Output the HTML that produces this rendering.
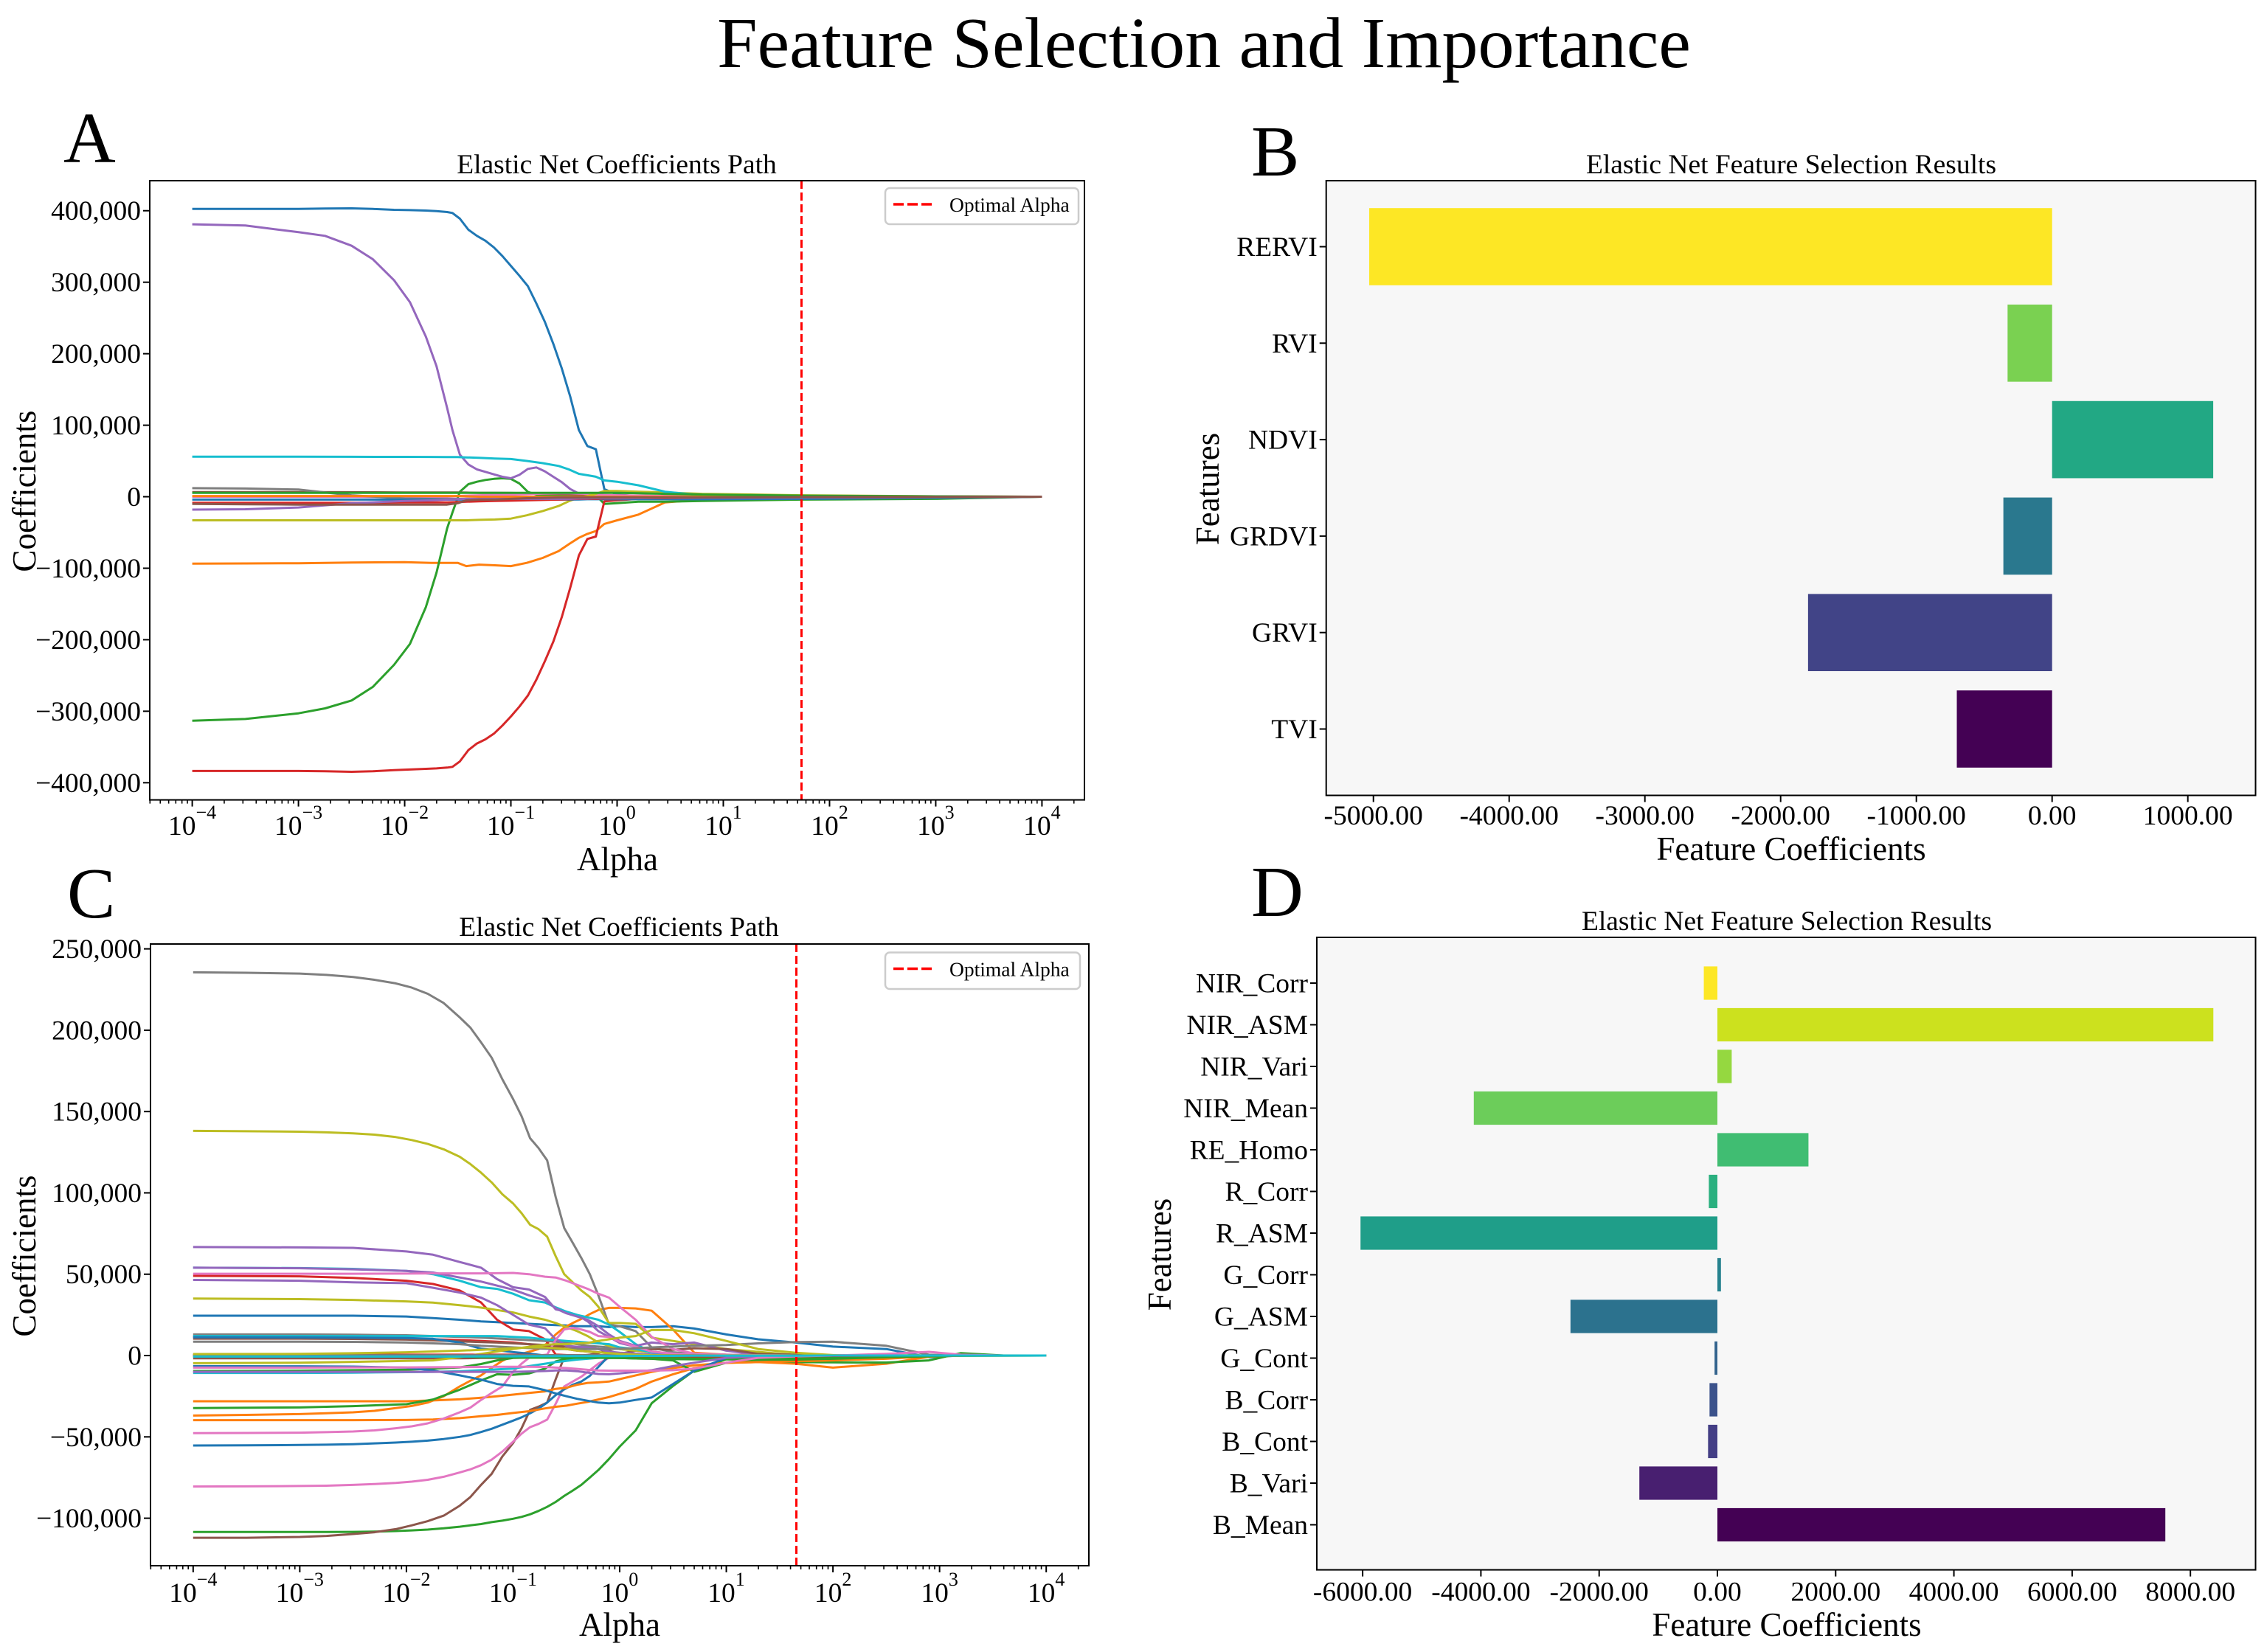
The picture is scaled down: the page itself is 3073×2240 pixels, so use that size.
<!DOCTYPE html>
<html lang="en">
<head>
<meta charset="utf-8">
<title>Feature Selection and Importance</title>
<style>
html,body{margin:0;padding:0;background:#fff;}
svg{display:block;font-family:"Liberation Serif","Times New Roman",serif;fill:#000;}
</style>
</head>
<body>
<svg id="figure" xmlns="http://www.w3.org/2000/svg" width="3073" height="2240" viewBox="0 0 3073 2240">
  <rect x="0" y="0" width="3073" height="2240" fill="#fff"/>
  <text x="1632" y="91" font-size="98" text-anchor="middle">Feature Selection and Importance</text>

  <text x="86" y="220" font-size="98">A</text>
  <text x="1696" y="238" font-size="98">B</text>
  <text x="91" y="1244" font-size="98">C</text>
  <text x="1696" y="1242" font-size="98">D</text>

  <g id="panel-a"></g>
  <g id="panel-b"></g>
  <g id="panel-c"></g>
  <g id="panel-d"></g>

  <text x="836" y="235" font-size="37.5" text-anchor="middle">Elastic Net Coefficients Path</text>
  <text x="837" y="1180" font-size="45" text-anchor="middle">Alpha</text>
  <text transform="translate(48 666) rotate(-90)" font-size="45" text-anchor="middle">Coefficients</text>

  <text x="2428" y="235" font-size="37.5" text-anchor="middle">Elastic Net Feature Selection Results</text>
  <text x="2428" y="1166" font-size="45" text-anchor="middle">Feature Coefficients</text>
  <text transform="translate(1652 663) rotate(-90)" font-size="45" text-anchor="middle">Features</text>

  <text x="839" y="1269" font-size="37.5" text-anchor="middle">Elastic Net Coefficients Path</text>
  <text x="840" y="2218" font-size="45" text-anchor="middle">Alpha</text>
  <text transform="translate(48 1703) rotate(-90)" font-size="45" text-anchor="middle">Coefficients</text>

  <text x="2422" y="1261" font-size="37.5" text-anchor="middle">Elastic Net Feature Selection Results</text>
  <text x="2422" y="2218" font-size="45" text-anchor="middle">Feature Coefficients</text>
  <text transform="translate(1587 1701) rotate(-90)" font-size="45" text-anchor="middle">Features</text>
</svg>

<script>
// ---------- Chart A data (coefficients in thousands) ----------
const alphaExponentTicks = [-4,-3,-2,-1,0,1,2,3,4];
const logAlphaA = [-4,-3.5,-3,-2.5,-2,-1.75,-1.6,-1.5,-1.42,-1.3,-1.15,-1,-0.85,-0.7,-0.55,-0.45,-0.36,-0.28,-0.2,-0.12,0,0.2,0.45,0.8,1.75,3,4];
const logAlphaDenseA = [-4,-3.5,-3,-2.75,-2.5,-2.3,-2.1,-1.95,-1.8,-1.7,-1.6,-1.55,-1.48,-1.4,-1.32,-1.24,-1.16,-1.08,-1,-0.92,-0.84,-0.76,-0.68,-0.6,-0.52,-0.44,-0.36,-0.28,-0.2,-0.12,0,0.2,0.45,0.8,1.75,3,4];
const yTicksA = [-400,-300,-200,-100,0,100,200,300,400];
const optimalLogAlphaA = 1.736;
const a00 = [402.6,402.6,402.6,403,403.3,402.5,401.3,400.8,400.2,399.5,398.2,396.8,388.9,373.4,364.8,358,348.7,336.6,322.9,309.1,294.4,270.3,244.5,213.6,179.2,139.6,93.2,70.9,66.4,10.7,3,0.5,-1,-2,-2,-1,0];
const a01 = [-93.5,-93.3,-93,-92,-91.5,-92.5,-92.5,-92.5,-97,-95,-95.9,-97,-92.5,-85.6,-76,-66,-57.4,-52,-48,-38,-33,-25,-8,-4,-2,-1,0];
const a02 = [-313.2,-310.8,-302.9,-296,-285,-266,-235.1,-205.9,-154.3,-106.2,-44.3,-22,7,17.6,21,23.4,25,25.8,25,18.6,6.6,3,3,3,3,3,3,3,2,-10,-9,-7,-7,-6,-4,-3,0];
const a03 = [-383.6,-383.6,-383.6,-384,-384.7,-384,-382.3,-381.5,-380.6,-380,-378.8,-377.8,-370.2,-354.4,-345.1,-339.3,-331.4,-320,-307.3,-293.6,-278.1,-255.8,-230,-202.5,-168.1,-126.8,-82.1,-59.1,-55.7,-6.5,-5,-3,-2,-2,-2,-1,0];
const a04 = [381,379.3,370,364.8,351,332.2,302.9,272,223.9,182.6,124.2,93.2,58.8,45.1,38.2,34.8,31.3,27.9,25.8,30.6,38.9,41,35.5,27.9,20.3,10.7,4.5,1.5,0.7,0,-0.5,-2,-3,-3,-1,-0.5,0];
const a05 = [6.5,6.5,6.5,6.3,6,6,6,6,5.8,5.5,5.5,5.3,5,4.5,4,3.5,3,3,2.5,2,2,1.5,1,0.8,0.5,0.2,0];
const a06 = [0,0,0,0,-0.5,-0.5,0,1,1.5,2,2.5,3,3.5,4.5,5,5,4.5,4,3,2.5,2,1.5,1,0.5,0.2,0,0];
const a07 = [12,11.5,10,2,-2.5,-3,-3,-3,-3,-3,-3,-2.8,-2.5,-2,-1.5,-1,-1,-1,-1,-1,-1,-1,-1,-1,-0.5,-0.2,0];
const a08 = [-33,-33,-33,-33,-33,-33,-33,-33,-33,-32.4,-31.8,-30.6,-26,-20,-13,-6,-1,1,4,8,8,7,6,4,2,0.5,0];
const a09 = [56,56,56,55.8,55.7,55.6,55.5,55.5,55,54.5,53.5,52.7,50,47,43,38,32,30,28,22.8,21,16,7,2,0,0,0];
const a10 = [-4,-4,-4,-4,-4,-4,-4,-4,-4,-4,-4,-4,-4,-4,-4,-4,-3.8,-3.5,-3.5,-3.5,-3.5,-3.5,-3.5,-3.5,-3,-1.5,0];
const a11 = [1,1,1,1,1,1,1,1,0.5,0,0,0,0,0,0,0,0,0,0,0,0,0,0,0,0,0,0];
const a12 = [5.5,5.5,5.5,5.5,5.5,5.5,5.5,5.5,5.5,5.5,5.5,5.5,5.5,5.5,5.5,5.5,5.5,5.5,5.5,5.5,5.5,5,4,3,1.5,0.5,0];
const a13 = [-8.5,-8.5,-8.5,-8.5,-8,-8,-8,-7.5,-7,-6.5,-6,-5.5,-5,-4.5,-4,-3.5,-3,-3,-3,-2.5,-2.5,-2,-2,-1.5,-1,-0.5,0];
const a14 = [-18,-17.5,-15,-9,-6,-5,-4,-3.5,-3,-3,-3,-3,-3,-3,-3,-3,-2.5,-2.5,-2,-2,-2,-2,-1.5,-1.5,-1,-0.5,0];
const a15 = [-10,-10.5,-11,-11,-11,-11,-11,-9,-5,-4,-4,-3,-2,-1.5,-1,-1,-1,-1,-1,-1,-1,-1,-1,-1,-0.5,-0.2,0];
const seriesA = [a00,a01,a02,a03,a04,a05,a06,a07,a08,a09,a10,a11,a12,a13,a14,a15];

// ---------- Chart C data (coefficients in thousands) ----------
const logAlphaC = [-4,-3,-2.5,-2,-1.75,-1.5, -1.3,-1.15,-1,-0.85,-0.7,-0.6, -0.5,-0.4,-0.3,-0.2,-0.1,0, 0.15,0.3,0.5,0.7,1,1.3, 1.65,2,2.5,2.9,3.2,3.6,4];
const logAlphaDenseC = [-4,-3.5,-3,-2.75,-2.5,-2.3,-2.1,-1.95,-1.8,-1.65,-1.5,-1.4,-1.3,-1.2,-1.1,-1,-0.92,-0.84,-0.76,-0.68,-0.6,-0.52,-0.44,-0.36,-0.28,-0.2,-0.1,0,0.15,0.3,0.5,0.7,1,1.65,4];
const yTicksC = [-100,-50,0,50,100,150,200,250];
const optimalLogAlphaC = 1.657;
const c00 = [24.5,24.5,24.5,24,23,22, 21,20.5,20,19.5,19,18.7, 18.5,18,18,18,17.5,18, 17.5,17.5,18,16.6,13,10, 8,5.5,4,-1,0,0,0];
const c01 = [-36.9,-36.5,-36,-35.5,-34.9,-34,-32.3,-31,-28.9,-25,-19,-15.5,-12.2,-7.5,-3.2,0,1,2.5,4,7.5,13,17.2,20,22.5,25.5,28,29.3,29.3,29,27.6,16,1.7,0.5,0,0];
const c02 = [-108.5,-108.5,-108.5,-108.5,-108.4,-108.2,-107.9,-107.5,-107,-106.2,-105.2,-104.4,-103.6,-102.4,-101.5,-100.3,-99.2,-97.6,-95.5,-93,-90,-86.3,-83,-79.5,-75,-70.4,-63.6,-56,-46,-29.3,-18.7,-9.2,-2.2,-0.5,0];
const c03 = [49,48.7,47.7,46,44,40, 32.6,22,16,15,10,0.6, 0.3,0.2,0.1,0,0,0, 0,-0.3,-0.8,-1.2,-1.8,-2, -2.5,-0.5,0,0,0,0,0];
const c04 = [66.7,66.5,66.2,64,62,57.5, 54,47,42,40.6,36,28.4, 27,25,21,15,11.5,7.7, 5.4,2.4,1,0.5,0.2,0, 0,0,0,0,0,0,0];
const c05 = [-112,-112,-111.5,-110.9,-109.7,-108.6,-106.7,-104.4,-101.8,-98.4,-92.3,-87,-79.5,-72.7,-62,-53.8,-44.7,-33.4,-31.4,-28.9,-14.5,-1,0,0,0.5,1.5,3,1,0.5,0.2,0,0,0,0,0];
const c06 = [-80.5,-80.4,-80.2,-80,-79.5,-79,-78.3,-77.5,-76.4,-74.5,-71.9,-70,-67.4,-64,-59,-53,-48,-44,-42,-39.4,-29.6,-19,-16,-13,-9,-5,-1.4,-1,-0.6,-0.3,-0.1,0,0,0,0];
const c07 = [235.6,235.3,234.8,234,232.7,231,228.8,226.2,222.4,216.7,207.9,201.6,192.5,183.1,169.8,157.7,147.2,133.6,127.5,120,97.3,78.4,69.3,60,50,37,19,18,15,5,2,1,0.5,0,0];
const c08 = [138.1,137.9,137.6,137.2,136.6,135.8,134.3,132.5,130.1,126.8,122.2,117.7,112.4,106.4,99.1,93.5,87.5,80.4,77.7,73.1,61,50,45,40,36,30,20,20,19.5,11,9,7,4,0.3,0];
const c09 = [54,53.8,53.3,52,50,46, 42,41,38,34,32.6,29.6, 27,25,23.5,22,19,14.5, 7,2,0.5,0.2,0,0, 0,0,0,0,0,0,0];
const c10 = [-55.3,-55.2,-55,-54.8,-54.5,-54,-53.5,-53,-52.3,-51.3,-50,-48.8,-47,-45,-42.5,-40,-38,-35.5,-32.6,-28.9,-24.3,-20.8,-18,-16,-12.5,-7,-0.2,0.3,0.2,0.1,0,0,0,0,0];
const c11 = [-28.1,-28.1,-28.1,-28.1,-27.6,-26.9, -25.9,-25,-24,-23,-22,-20.5, -19.8,-18,-16.8,-16.5,-16,-14.5, -12.2,-10,-7.7,-6,-4.5,-4, -5,-7.4,-5,-0.7,0,0,0];
const c12 = [-32.3,-31.9,-31.1,-29.9,-27,-21, -15.3,-11.5,-11.8,-11,-8,-3.6, -2,-1.5,-1.3,-1.2,-1.2,-1.5, -1.8,-2,-3,-10,-4.4,-3, -4,-4.2,-4.3,-3,1.5,0,0];
const c13 = [11.5,11.3,11,10.5,10,9.5, 9,8.5,8,7,6,5, 4,3,2.5,2,1.5,1, 0.5,0.3,0.1,0,0,0, 0,0,0,0,0,0,0];
const c14 = [54,53.7,53,52,51,48, 45.5,43,40.5,37,34,29, 26,24,22,18,13,9, 6,8,7,8,3,0.5, 0,0,0,0,0,0,0];
const c15 = [10.4,10.4,10.2,9.8,9.3,8.7, 8.3,8,7.5,7,6.5,6, 5.5,5.2,5,4,2,1, 3,4,3.5,4.5,4,1, 0.5,0,0,0,0,0,0];
const c16 = [50.3,50.3,50.3,50.4,50.5,50.5, 50.5,50.6,50.8,50,48.5,48, 46,43.5,41,38,35.6,30, 22,11.5,4,1.2,0.5,0.2, 0,0,0,0,0,0,0];
const c17 = [13,13,12.8,12.5,12,11.5, 11,10.5,10,9.5,9,8.5, 8,7,6,5.5,5,4, 3,2,1,0.5,0.2,0.1, 0,0,0,0,0,0,0];
const c18 = [35,34.7,34.2,33.3,32.5,31, 29.5,28,26.5,24,22,20, 17.5,15,12,8,6,4, 3,2,1,0.5,0.2,0, 0,0,0,0,0,0,0];
const c19 = [12,12,12,12,12,12, 12,12,11.5,11,10,9.5, 9,8.5,8,7.5,7,5, 4,2,1,0.5,0,0, 0,0,0,0,0,0,0];
const c20 = [11.2,11.1,11,10.8,10.3,8, 4.2,3.3,2.1,1.2,0,0, 0,0,0,0,0,0, 0,0,0,0,0,0, 0,0,0,0,0,0,0];
const c21 = [-39.7,-39.7,-39.7,-39.6,-39.3,-38.5, -37.3,-36.5,-35.3,-34.2,-32.5,-31.5, -30.8,-29.6,-28.5,-27,-25.5,-23.5, -20.5,-16,-11.5,-7.7,-4.4,-4, -3.5,-3,-2,-0.5,0,0,0];
const c22 = [-9.5,-9.3,-9,-8.7,-8,-7.3, -5.2,-3,-1.5,-1.2,-1.2,-1.2, -1.2,-1.2,-1.2,-1.3,-1.5,-1.5, -1.8,-2,-2.2,-2.3,-2.4,-2.5, -2.5,-2,-1,-0.5,0,0,0];
const c23 = [0.5,0.5,0.5,0.5,0.5,0.5, 0.5,0.5,0.5,0.3,0.2,0.1, 0,0,0,0,0,0, 0,0,0,0,0,0, 0,0,0,0,0,0,0];
const c24 = [46.5,46,45,44.5,41.7,38.7, 35.6,31,25,19,16.8,10, 6,5.4,5,4,2.4,1.7, 1.2,0.6,0.3,0.1,0,0, 0,0,0,0,0,0,0];
const c25 = [-1.7,-1.7,-1.7,-1.7,-1.7,-1.7, -1.5,-1.5,-1.3,-1.2,-1,-1, -1,-1,-1,-1,-1,-1, -1,-0.8,-0.6,-0.4,-0.2,0, 0,0,0,0,0,0,0];
const c26 = [-47.7,-47.6,-47.4,-47.1,-46.7,-46,-44.7,-43.5,-41.7,-38.7,-34.9,-32,-27.3,-23,-19,-10,-5,-0.9,0,0.6,9.7,16,17,16,14.5,12,11.5,8.5,5.4,2.4,1.2,0.5,0.2,0,0];
const c27 = [8.5,8.5,8.4,8,7.5,7, 6,5.5,5,4.6,4.2,4, 4,4,4,4,4,4.2, 4.5,5,5.5,6,6.5,7.5, 8.3,8.5,6,0.5,0,0,0];
const c28 = [-4.7,-4.4,-3.9,-3.3,-3,-1, 1,2.5,4,5.4,6.6,7, 7,7.5,7.7,9,10,11, 12,15.7,15.7,13.7,9,4, 1.7,0.3,0,0,0,0,0];
const c29 = [-10.7,-10.7,-10.5,-10.2,-10,-9.7, -9,-8.5,-8,-6.5,-5,-4, -3.3,-2.5,-2,-1.4,-1,-0.6, -0.4,-0.2,0,0,0,0, 0,0,0,0,0,0,0];
const c30 = [-6.5,-6.6,-6.8,-7.4,-9.2,-12.2, -14.8,-17.5,-18.6,-19,-21.3,-23.3, -25,-26.6,-27.8,-28.9,-29.3,-28.9, -27.3,-25.8,-17.5,-9.2,-1.4,-0.8, -0.3,0,0,0,0,0,0];
const c31 = [-0.3,-0.3,-0.3,-0.3,-0.3,-0.3, -0.3,-0.3,-0.3,-0.3,-0.3,-0.3, -0.3,-0.3,-0.3,-0.3,-0.3,-0.3, -0.3,-0.3,-0.2,-0.1,0,0, 0,0,0,0,0,0,0];
const c32 = [-0.5,-0.5,-0.5,-0.5,-0.5,-0.5, -1,-1,-1.2,-1.2,-1.3,-1.3, -1.3,-1.3,-1.3,-1.4,-1.5,-1.5, -1.5,-1.5,-1.5,-1.5,-1.5,-1.5, -1.5,-1,-0.5,0,0,0,0];
const c33 = [0.3,0.3,0.3,0.3,0.3,0.3, 0.3,0.3,0.2,0.1,0,0, 0,0,0,0,0,-0.2, -0.3,-0.3,-0.3,-0.5,-0.5,-0.5, -0.5,-0.2,0,0,0,0,0];
const c34 = [-10,-10,-10,-10,-10,-10, -10,-10,-10,-9.8,-9.5,-9.2, -9.2,-9.6,-10.5,-11.3,-11.5,-11, -10,-9,-6.5,-4.4,-1.4,-0.5, 0,0,0,0,0,0,0];
const c35 = [0.2,0.2,0.2,0.2,0.2,0.2, 0.2,0.2,0.2,0.2,0.2,0.2, 0.2,0.2,0.2,0.2,0.2,0.2, 0.2,0.2,0.1,0.1,0,0, 0,0,0,0,0,0,0];
const c36 = [-7.4,-7.4,-7.3,-7.3,-7.2,-7.1, -7,-6.9,-6.9,-6.9,-7,-7.4, -7.7,-8.2,-8.8,-9.2,-9.3,-9.3, -9.3,-9.3,-9,-8,-4.4,-1.4, -0.5,0,1,2.3,0.5,0,0];
const c37 = [0.1,0.1,0.1,0.1,0.1,0.1, 0.1,0.1,0.1,0.1,0.1,0.1, 0.1,0.1,0.1,0.1,0.1,0.1, 0.1,0.1,0.1,0,0,0, 0,0,0,0,0,0,0];
const c38 = [0.9,1,1.4,2,2.5,3, 3.5,4,4.5,5,5,4.5, 4,3,2.5,2,1.5,1, 0.5,0.2,0,0,0,0, 0,0,0,0,0,0,0];
const c39 = [-0.6,-0.6,-0.6,-0.6,-0.6,-0.6, -0.5,-0.5,-0.5,-0.4,-0.4,-0.4, -0.3,-0.3,-0.3,-0.3,-0.3,-0.3, -0.2,-0.2,-0.2,-0.1,-0.1,-0.1, -0.1,0,0,0,0,0,0];
const seriesC = [c00,c01,c02,c03,c04,c05,c06,c07,c08,c09,c10,c11,c12,c13,c14,c15,c16,c17,c18,c19,c20,c21,c22,c23,c24,c25,c26,c27,c28,c29,c30,c31,c32,c33,c34,c35,c36,c37,c38,c39];

// ---------- Chart B data ----------
const featuresB = ["TVI","GRVI","GRDVI","NDVI","RVI","RERVI"];
const coefficientsB = [-702,-1798,-359,1187,-328,-5031];
const xTicksB = [-5000,-4000,-3000,-2000,-1000,0,1000];

// ---------- Chart D data ----------
const featuresD = ["B_Mean","B_Vari","B_Cont","B_Corr","G_Cont","G_ASM","G_Corr","R_ASM","R_Corr","RE_Homo","NIR_Mean","NIR_Vari","NIR_ASM","NIR_Corr"];
const coefficientsD = [7576,-1320,-158,-133,-48,-2485,60,-6036,-145,1540,-4120,242,8388,-230];
const xTicksD = [-6000,-4000,-2000,0,2000,4000,6000,8000];

// ---------- Styles ----------
const lineCycle = ["#1f77b4","#ff7f0e","#2ca02c","#d62728","#9467bd","#8c564b","#e377c2","#7f7f7f","#bcbd22","#17becf"];
const viridisB = ["#440154","#414487","#2a788e","#22a884","#7ad151","#fde725"];
const viridisD = ["#440154","#481f70","#433e85","#3b528b","#33638d","#2c728e","#26828e","#1f9e89","#2ab07f","#40bd72","#6ccd5a","#95d840","#cce11e","#fde725"];
const NS = "http://www.w3.org/2000/svg";
const TICK_FONT = 37.5;

function make(parent, tag, attrs) {
  const el = document.createElementNS(NS, tag);
  for (const k in attrs) el.setAttribute(k, attrs[k]);
  parent.appendChild(el);
  return el;
}
function fmtThousands(v) {
  const s = Math.abs(v * 1000).toLocaleString("en-US");
  return (v < 0 ? "\u2212" : "") + s;
}

function drawPathChart(root, box, logAlpha, logAlphaDense, series, yDomain, yTicks, optimal, legend, prefix) {
  const xMin = -4.4, xMax = 4.4;
  const xScale = l => box.left + (l - xMin) / (xMax - xMin) * (box.right - box.left);
  const yScale = v => box.bottom - (v - yDomain[0]) / (yDomain[1] - yDomain[0]) * (box.bottom - box.top);

  const plot = make(root, "rect", {x: box.left, y: box.top, width: box.right - box.left, height: box.bottom - box.top, fill: "#fff"});
  
  

  const lines = make(root, "g", {fill: "none", "stroke-width": 3, "stroke-linejoin": "round"});
  
  
  series.forEach((vals, i) => {
    const grid = vals.length === logAlphaDense.length ? logAlphaDense : logAlpha;
    const pts = vals.map((v, j) => xScale(grid[j]).toFixed(1) + "," + yScale(v).toFixed(1)).join(" ");
    const line = make(lines, "polyline", {points: pts, stroke: lineCycle[i % 10]});
    
    
  });

  const optX = xScale(optimal);
  const opt = make(root, "line", {x1: optX, x2: optX, y1: box.top, y2: box.bottom, stroke: "#ff0000", "stroke-width": 3, "stroke-dasharray": "11 5"});
  
  

  // minor log ticks
  for (let d = -5; d <= 4; d++) {
    for (let m = 2; m <= 9; m++) {
      const l = d + Math.log10(m);
      if (l < xMin || l > xMax) continue;
      const mt = make(root, "line", {x1: xScale(l), x2: xScale(l), y1: box.bottom, y2: box.bottom + 5, stroke: "#000", "stroke-width": 1.6});
      
      
    }
  }
  alphaExponentTicks.forEach(e => {
    const x = xScale(e);
    const t = make(root, "line", {x1: x, x2: x, y1: box.bottom, y2: box.bottom + 9, stroke: "#000", "stroke-width": 2});
    
    
    const lab = make(root, "text", {x: x, y: box.xLabelY, "font-size": TICK_FONT, "text-anchor": "middle"});
    
    
    lab.appendChild(document.createTextNode("10"));
    const sup = make(lab, "tspan", {"font-size": 26, dy: -22});
    sup.textContent = e < 0 ? "\u2212" + Math.abs(e) : String(e);
  });
  yTicks.forEach(v => {
    const y = yScale(v);
    const t = make(root, "line", {x1: box.left - 9, x2: box.left, y1: y, y2: y, stroke: "#000", "stroke-width": 2});
    
    
    const lab = make(root, "text", {x: box.left - 12, y: y + 12.5, "font-size": TICK_FONT, "text-anchor": "end"});
    
    
    lab.textContent = fmtThousands(v);
  });

  const frame = make(root, "rect", {x: box.left, y: box.top, width: box.right - box.left, height: box.bottom - box.top, fill: "none", stroke: "#000", "stroke-width": 2});
  
  

  const lg = make(root, "g", {});
  
  
  const lb = make(lg, "rect", {x: legend.x, y: legend.y, width: legend.w, height: legend.h, rx: 6, fill: "#fff", "fill-opacity": 0.8, stroke: "#cccccc", "stroke-width": 2.5});
  
  
  const ll = make(lg, "line", {x1: legend.x + 11, x2: legend.x + 68, y1: legend.y + 22, y2: legend.y + 22, stroke: "#ff0000", "stroke-width": 3.5, "stroke-dasharray": "14 5"});
  
  
  const lt = make(lg, "text", {x: legend.x + 87, y: legend.y + 32, "font-size": 27.5});
  
  
  lt.textContent = "Optimal Alpha";
}

function drawBarChart(root, box, features, coefs, colors, xDomain, xTicks, barPitch, zeroRowY, prefix) {
  const xScale = v => box.left + (v - xDomain[0]) / (xDomain[1] - xDomain[0]) * (box.right - box.left);
  const yScale = i => zeroRowY - i * barPitch;
  const bg = make(root, "rect", {x: box.left, y: box.top, width: box.right - box.left, height: box.bottom - box.top, fill: "#f7f7f7"});
  
  
  const h = barPitch * 0.8;
  coefs.forEach((v, i) => {
    const x0 = xScale(Math.min(v, 0)), x1 = xScale(Math.max(v, 0));
    const bar = make(root, "rect", {x: x0, y: yScale(i) - h / 2, width: x1 - x0, height: h, fill: colors[i]});
    
    
    const t = make(root, "line", {x1: box.left - 9, x2: box.left, y1: yScale(i), y2: yScale(i), stroke: "#000", "stroke-width": 2});
    
    
    const lab = make(root, "text", {x: box.left - 12, y: yScale(i) + 12.5, "font-size": TICK_FONT, "text-anchor": "end"});
    
    
    lab.textContent = features[i];
  });
  xTicks.forEach(v => {
    const x = xScale(v);
    const t = make(root, "line", {x1: x, x2: x, y1: box.bottom, y2: box.bottom + 9, stroke: "#000", "stroke-width": 2});
    
    
    const lab = make(root, "text", {x: x, y: box.xLabelY, "font-size": TICK_FONT, "text-anchor": "middle"});
    
    
    lab.textContent = v.toFixed(2);
  });
  const frame = make(root, "rect", {x: box.left, y: box.top, width: box.right - box.left, height: box.bottom - box.top, fill: "none", stroke: "#000", "stroke-width": 2});
  
  
}

drawPathChart(document.getElementById("panel-a"),
  {left: 203, right: 1470, top: 245, bottom: 1084.6, xLabelY: 1132},
  logAlphaA, logAlphaDenseA, seriesA, [-424, 442], yTicksA, optimalLogAlphaA,
  {x: 1200, y: 255, w: 262, h: 49}, "chart-a");

drawPathChart(document.getElementById("panel-c"),
  {left: 204, right: 1476, top: 1280, bottom: 2123, xLabelY: 2172},
  logAlphaC, logAlphaDenseC, seriesC, [-129.2, 253], yTicksC, optimalLogAlphaC,
  {x: 1200, y: 1291.5, w: 264, h: 49.5}, "chart-c");

drawBarChart(document.getElementById("panel-b"),
  {left: 1797.7, right: 3057.5, top: 245, bottom: 1078.5, xLabelY: 1118},
  featuresB, coefficientsB, viridisB, [-5348, 1499], xTicksB, 130.8, 988.5, "chart-b");

drawBarChart(document.getElementById("panel-d"),
  {left: 1785, right: 3057.5, top: 1271, bottom: 2128.6, xLabelY: 2170.5},
  featuresD, coefficientsD, viridisD, [-6775, 9102], xTicksD, 56.5, 2067.5, "chart-d");
</script>
</body>
</html>
